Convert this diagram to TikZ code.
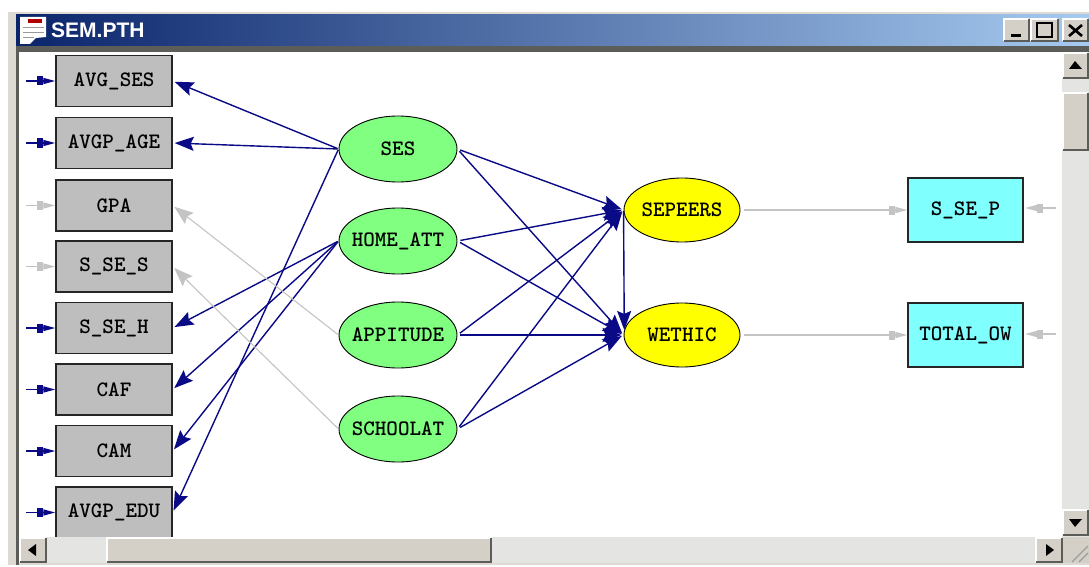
\documentclass[tikz,border=0pt]{standalone}
\usepackage{fontspec}
\usepackage{tikz}
\usetikzlibrary{arrows.meta,shapes.geometric}
\setsansfont{Liberation Sans}
\definecolor{sem_green}{RGB}{128, 255, 128}
\definecolor{sem_yellow}{RGB}{255, 255, 0}
\definecolor{sem_cyan}{RGB}{128, 255, 255}
\definecolor{sem_silver}{RGB}{190, 190, 190}
\definecolor{sem_navy}{RGB}{10, 10, 135}
\definecolor{sem_grey}{RGB}{196, 196, 196}
\definecolor{win_face}{RGB}{212, 208, 200}
\definecolor{win_trough}{RGB}{228, 228, 226}
\definecolor{win_shade}{RGB}{92, 92, 88}
\definecolor{win_dark}{RGB}{10, 36, 106}
\definecolor{win_light}{RGB}{166, 202, 240}
\tikzstyle{gn}=[ellipse,fill=sem_green,draw=black,line width=0.9pt,inner sep=-10pt,
  minimum width=118pt,minimum height=66pt,font=\ttfamily\bfseries\fontsize{22}{22}\selectfont]
\tikzstyle{yn}=[ellipse,fill=sem_yellow,draw=black,line width=0.9pt,inner sep=-10pt,
  minimum width=116pt,minimum height=64pt,font=\ttfamily\bfseries\fontsize{22}{22}\selectfont]
\tikzstyle{sn}=[rectangle,fill=sem_silver,draw=black!85,line width=1.4pt,inner sep=0pt,
  minimum width=116pt,minimum height=51pt,font=\ttfamily\bfseries\fontsize{22}{22}\selectfont]
\tikzstyle{cn}=[rectangle,fill=sem_cyan,draw=black!85,line width=1.4pt,inner sep=0pt,
  minimum width=115pt,minimum height=64pt,font=\ttfamily\bfseries\fontsize{22}{22}\selectfont]
\tikzstyle{none}=[inner sep=0pt,minimum size=0pt]
\tikzstyle{load}=[draw=sem_navy,line width=1.4pt,shorten >=2pt,shorten <=1pt,
  -{Stealth[length=19pt,width=14pt,inset=3pt]}]
\tikzstyle{reg}=[load,shorten <=3pt]
\tikzstyle{off}=[load,draw=sem_grey,line width=1.1pt]
\tikzstyle{err}=[draw=sem_navy,line width=1.4pt,
  -{Rectangle[length=6pt,width=9pt,sep=0pt]Triangle[length=12pt,width=6pt]}]
\tikzstyle{erroff}=[err,draw=sem_grey]
\tikzstyle{btn}=[fill=win_face,draw=none]
\tikzstyle{glyph}=[fill=black,draw=none]
\newcommand{\bevel}[4]{%
  \fill [style=btn] (#1, #2) rectangle (#3, #4);
  \draw [white, line width=1.2pt] (#1, #4) -- (#1, #2) -- (#3, #2);
  \draw [win_shade, line width=1.6pt] (#1, #4) -- (#3, #4) -- (#3, #2);
}
\begin{document}
\begin{tikzpicture}[x=1pt,y=-1pt]
    \useasboundingbox (0, 0) rectangle (1089, 567);
    % window
    \fill [win_face!80!white] (8, 12) rectangle (1089, 565);
    \fill [win_shade] (16, 46) rectangle (1089, 52);
    \fill [win_shade] (16, 46) rectangle (19, 565);
    \shade [left color=win_dark, right color=win_light] (16, 15) rectangle (1089, 46);
    \fill [white] (19, 52) rectangle (1062, 537);
    % observed variables
    \node [style=sn] (0) at (114, 81) {AVG\_SES};
    \node [style=sn] (1) at (114, 143) {AVGP\_AGE};
    \node [style=sn] (2) at (114, 205.5) {GPA};
    \node [style=sn] (3) at (114, 266.5) {S\_SE\_S};
    \node [style=sn] (4) at (114, 328) {S\_SE\_H};
    \node [style=sn] (5) at (114, 389.5) {CAF};
    \node [style=sn] (6) at (114, 451) {CAM};
    \node [style=sn] (7) at (114, 512.5) {AVGP\_EDU};
    \node [style=cn] (8) at (965.5, 210) {S\_SE\_P};
    \node [style=cn] (9) at (965.5, 335) {TOTAL\_OW};
    % latent variables
    \node [style=gn] (10) at (398, 149) {SES};
    \node [style=gn] (11) at (398, 241) {HOME\_ATT};
    \node [style=gn] (12) at (398, 335) {APPITUDE};
    \node [style=gn] (13) at (398, 429) {SCHOOLAT};
    \node [style=yn] (14) at (682, 210) {SEPEERS};
    \node [style=yn] (15) at (682, 335) {WETHIC};
    % free ends
    \node [style=none] (16) at (26, 81) {};
    \node [style=none] (17) at (26, 143) {};
    \node [style=none] (18) at (26, 205.5) {};
    \node [style=none] (19) at (26, 266.5) {};
    \node [style=none] (20) at (26, 328) {};
    \node [style=none] (21) at (26, 389.5) {};
    \node [style=none] (22) at (26, 451) {};
    \node [style=none] (23) at (26, 512.5) {};
    \node [style=none] (24) at (1056, 208) {};
    \node [style=none] (25) at (1056, 334) {};
    \node [style=none] (26) at (1025, 208) {};
    \node [style=none] (27) at (1025, 334) {};
    \draw [style=err] (16.center) to (0.west);
    \draw [style=err] (17.center) to (1.west);
    \draw [style=erroff] (18.center) to (2.west);
    \draw [style=erroff] (19.center) to (3.west);
    \draw [style=err] (20.center) to (4.west);
    \draw [style=err] (21.center) to (5.west);
    \draw [style=err] (22.center) to (6.west);
    \draw [style=err] (23.center) to (7.west);
    \draw [style=erroff] (24.center) to (26.center);
    \draw [style=erroff] (25.center) to (27.center);
    \draw [style=load] (10.west) to (0.east);
    \draw [style=load] (10.west) to (1.east);
    \draw [style=load] (10.west) to (7.east);
    \draw [style=load] (11.west) to (4.east);
    \draw [style=load] (11.west) to (5.east);
    \draw [style=load] (11.west) to (6.east);
    \draw [style=off] (12.west) to (2.east);
    \draw [style=off] (13.west) to (3.east);
    \draw [style=reg] (10.east) to (14.west);
    \draw [style=reg] (10.east) to (15.west);
    \draw [style=reg] (11.east) to (14.west);
    \draw [style=reg] (11.east) to (15.west);
    \draw [style=reg] (12.east) to (14.west);
    \draw [style=reg] (12.east) to (15.west);
    \draw [style=reg] (13.east) to (14.west);
    \draw [style=reg] (13.east) to (15.west);
    \draw [style=load,shorten >=0pt] (14.west) to (15.175);
    \draw [style=erroff,shorten <=4pt] (14.east) to (8.west);
    \draw [style=erroff,shorten <=4pt] (15.east) to (9.west);
    % scroll bars
    \fill [win_trough] (19, 537) rectangle (1089, 563);
    \fill [win_trough] (1062, 52) rectangle (1089, 537);
    \fill [win_face] (1063, 537) rectangle (1089, 563);
    \draw [win_shade!60!white, line width=1.2pt] (1072, 562) -- (1088, 546) (1079, 562) -- (1088, 553);
    \bevel{20}{538}{46}{562}
    \bevel{107}{538}{491}{562}
    \bevel{1036}{538}{1062}{562}
    \bevel{1063}{53}{1088}{78}
    \bevel{1063}{93}{1088}{150}
    \bevel{1063}{510}{1088}{535}
    \fill [style=glyph] (28, 550) -- (36, 544) -- (36, 556) -- cycle;
    \fill [style=glyph] (1054, 550) -- (1046, 544) -- (1046, 556) -- cycle;
    \fill [style=glyph] (1075, 61) -- (1069, 69) -- (1082, 69) -- cycle;
    \fill [style=glyph] (1075, 527) -- (1069, 519) -- (1082, 519) -- cycle;
    % title bar
    \fill [white] (20, 17) -- (46, 17) -- (46, 37) -- (36, 38) -- (30, 44) -- (20, 44) -- cycle;
    \fill [red!70!black] (28, 19) rectangle (42, 23);
    \draw [black!40, line width=0.6pt] (23, 27) -- (44, 27) (23, 32) -- (44, 32) (23, 37) -- (34, 37);
    \node [style=none, anchor=west, text=white, font=\sffamily\bfseries\fontsize{21}{21}\selectfont] (28) at (51, 30) {SEM.PTH};
    \bevel{1004}{19}{1029}{41}
    \bevel{1031}{19}{1058}{41}
    \bevel{1063}{19}{1088}{41}
    \fill [style=glyph] (1011, 34) rectangle (1021, 37);
    \draw [black, line width=1.4pt] (1037, 23) rectangle (1052, 37);
    \draw [black, line width=2.6pt] (1069, 25) -- (1082, 36) (1082, 25) -- (1069, 36);
\end{tikzpicture}
\end{document}
